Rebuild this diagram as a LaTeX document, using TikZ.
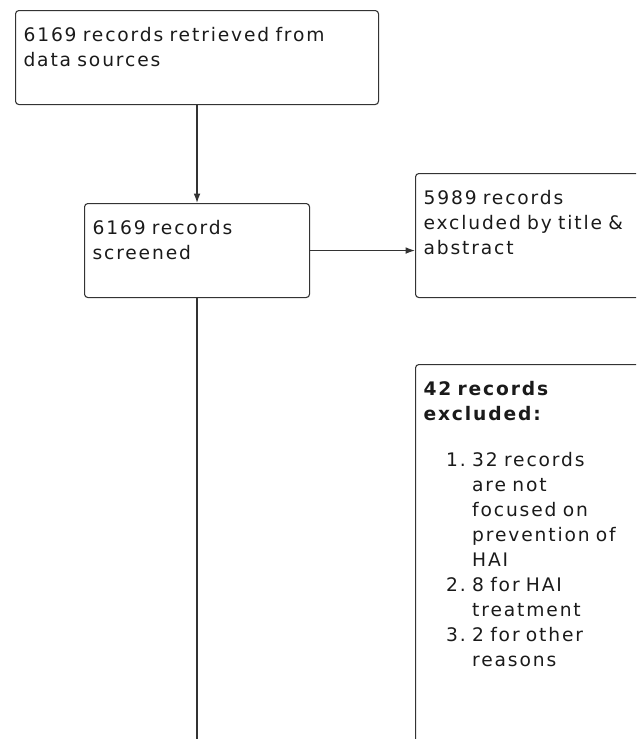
\documentclass[tikz,border=0pt]{standalone}
\usepackage{fontspec}
\setmainfont{DejaVu Sans}[LetterSpace=10]
\usetikzlibrary{arrows.meta}

\definecolor{boxline}{HTML}{333333}
\definecolor{boxtext}{HTML}{1A1A1A}
\newcommand{\listnum}[1]{\hspace*{17pt}\makebox[19.5pt][l]{#1}}
\newcommand{\listcont}{\hspace*{36.5pt}}

\tikzset{
  flowbox/.style={draw=boxline, line width=0.8pt, rounded corners=2.5pt,
    anchor=north west, align=left, inner xsep=6pt, inner ysep=0pt,
    text=boxtext, font=\fontsize{14pt}{18.75pt}\selectfont, text height=23pt},
  flowarrow/.style={draw=boxline, line width=0.9pt, -{Latex[length=7pt,width=5pt]}},
  flowline/.style={draw=boxline, line width=0.9pt}
}

\begin{document}
\begin{tikzpicture}[x=0.75pt,y=-0.75pt]
\clip (0,0) rectangle (636,739);

\node[flowbox, text width=260.25pt, minimum width=272.25pt, text depth=47.5pt] (retrieved) at (15,10)
  {6169 records retrieved from\\data sources};
\node[flowbox, text width=156.75pt, minimum width=168.75pt, text depth=47.5pt] (screened) at (84,203)
  {6169 records\\screened};
\node[flowbox, text width=168pt, minimum width=180pt, text depth=70pt] (excluded) at (415,173)
  {5989 records\\excluded by title \&\\abstract};
\node[flowbox, text width=168pt, minimum width=180pt, text depth=280pt] (reasons) at (415,364)
  {\textbf{42 records}\\\textbf{excluded:}\\[15.75pt]
   \listnum{1.}32 records\\\listcont are not\\\listcont focused on\\\listcont prevention of\\\listcont HAI\\
   \listnum{2.}8 for HAI\\\listcont treatment\\
   \listnum{3.}2 for other\\\listcont reasons};

\coordinate (bottom) at (198,760);

\draw[flowarrow] (retrieved.south) -- (retrieved.south |- screened.north);
\draw[flowarrow] (screened.east) -- (excluded.west |- screened.east);
\draw[flowline] (screened.south) -- (screened.south |- bottom);

\end{tikzpicture}
\end{document}
